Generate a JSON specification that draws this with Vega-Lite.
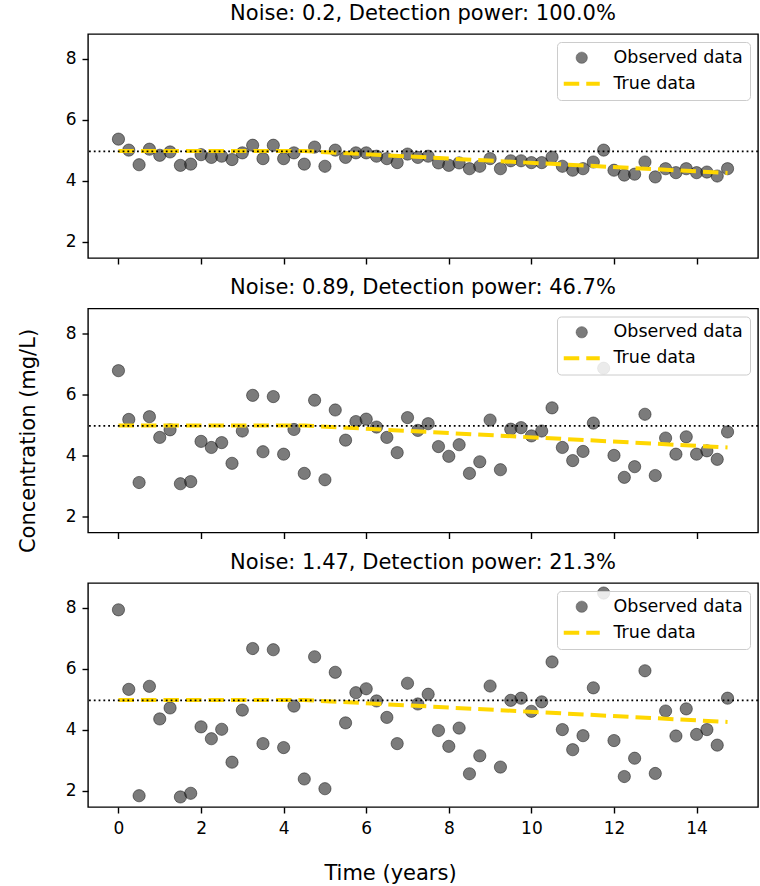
{
  "$schema": "https://vega.github.io/schema/vega-lite/v6.json",
  "background": "white",
  "padding": {"left": 16, "top": 1, "right": 2, "bottom": 2},
  "config": {
    "font": "DejaVu Sans",
    "view": {"stroke": "black", "strokeWidth": 1.4},
    "axis": {"grid": false, "domain": false, "tickColor": "black", "tickWidth": 1.4, "tickSize": 6, "labelFontSize": 17, "labelColor": "black", "labelPadding": 6, "labelFont": "DejaVu Sans", "titleFont": "DejaVu Sans", "titleFontSize": 21, "titleFontWeight": "normal", "titleColor": "black"},
    "axisX": {"labelPadding": 7},
    "title": {"fontSize": 21, "fontWeight": "normal", "font": "DejaVu Sans", "color": "black", "offset": 10.5, "baseline": "alphabetic"},
    "legend": {"title": null, "orient": "top-right", "offset": 8, "padding": 7, "fillColor": "rgba(255,255,255,0.85)", "strokeColor": "#cccccc", "cornerRadius": 4, "labelFontSize": 17.5, "labelColor": "black", "labelFont": "DejaVu Sans", "symbolSize": 400, "symbolOffset": 9, "labelOffset": 23, "rowPadding": 7,
      "symbolStrokeWidth": 1}
  },
  "bounds": "flush",
  "spacing": 50.5,
  "resolve": {"scale": {"color": "independent"}, "legend": {"color": "independent"}},
  "datasets": {
    "obs": [
      {"p":1,"t":0,"v":5.37},{"p":1,"t":0.25,"v":5.01},{"p":1,"t":0.5,"v":4.53},{"p":1,"t":0.75,"v":5.04},{"p":1,"t":1,"v":4.84},{"p":1,"t":1.25,"v":4.95},{"p":1,"t":1.5,"v":4.51},{"p":1,"t":1.75,"v":4.55},{"p":1,"t":2,"v":4.86},{"p":1,"t":2.25,"v":4.77},{"p":1,"t":2.5,"v":4.81},{"p":1,"t":2.75,"v":4.70},{"p":1,"t":3,"v":4.92},{"p":1,"t":3.25,"v":5.17},{"p":1,"t":3.5,"v":4.73},{"p":1,"t":3.75,"v":5.17},{"p":1,"t":4,"v":4.73},{"p":1,"t":4.25,"v":4.92},{"p":1,"t":4.5,"v":4.55},{"p":1,"t":4.75,"v":5.11},{"p":1,"t":5,"v":4.48},{"p":1,"t":5.25,"v":5.01},{"p":1,"t":5.5,"v":4.77},{"p":1,"t":5.75,"v":4.92},{"p":1,"t":6,"v":4.92},{"p":1,"t":6.25,"v":4.81},{"p":1,"t":6.5,"v":4.73},{"p":1,"t":6.75,"v":4.60},{"p":1,"t":7,"v":4.88},{"p":1,"t":7.25,"v":4.77},{"p":1,"t":7.5,"v":4.81},{"p":1,"t":7.75,"v":4.59},{"p":1,"t":8,"v":4.51},{"p":1,"t":8.25,"v":4.59},{"p":1,"t":8.5,"v":4.40},{"p":1,"t":8.75,"v":4.48},{"p":1,"t":9,"v":4.73},{"p":1,"t":9.25,"v":4.40},{"p":1,"t":9.5,"v":4.66},{"p":1,"t":9.75,"v":4.66},{"p":1,"t":10,"v":4.60},{"p":1,"t":10.25,"v":4.60},{"p":1,"t":10.5,"v":4.78},{"p":1,"t":10.75,"v":4.48},{"p":1,"t":11,"v":4.35},{"p":1,"t":11.25,"v":4.40},{"p":1,"t":11.5,"v":4.62},{"p":1,"t":11.75,"v":5.01},{"p":1,"t":12,"v":4.35},{"p":1,"t":12.25,"v":4.19},{"p":1,"t":12.5,"v":4.22},{"p":1,"t":12.75,"v":4.62},{"p":1,"t":13,"v":4.13},{"p":1,"t":13.25,"v":4.40},{"p":1,"t":13.5,"v":4.27},{"p":1,"t":13.75,"v":4.40},{"p":1,"t":14,"v":4.27},{"p":1,"t":14.25,"v":4.29},{"p":1,"t":14.5,"v":4.16},{"p":1,"t":14.75,"v":4.40},
      {"p":2,"t":0,"v":6.78},{"p":2,"t":0.25,"v":5.18},{"p":2,"t":0.5,"v":3.11},{"p":2,"t":0.75,"v":5.27},{"p":2,"t":1,"v":4.59},{"p":2,"t":1.25,"v":4.84},{"p":2,"t":1.5,"v":3.07},{"p":2,"t":1.75,"v":3.14},{"p":2,"t":2,"v":4.46},{"p":2,"t":2.25,"v":4.26},{"p":2,"t":2.5,"v":4.42},{"p":2,"t":2.75,"v":3.74},{"p":2,"t":3,"v":4.80},{"p":2,"t":3.25,"v":5.97},{"p":2,"t":3.5,"v":4.12},{"p":2,"t":3.75,"v":5.93},{"p":2,"t":4,"v":4.04},{"p":2,"t":4.25,"v":4.85},{"p":2,"t":4.5,"v":3.41},{"p":2,"t":4.75,"v":5.81},{"p":2,"t":5,"v":3.20},{"p":2,"t":5.25,"v":5.49},{"p":2,"t":5.5,"v":4.50},{"p":2,"t":5.75,"v":5.11},{"p":2,"t":6,"v":5.19},{"p":2,"t":6.25,"v":4.93},{"p":2,"t":6.5,"v":4.59},{"p":2,"t":6.75,"v":4.09},{"p":2,"t":7,"v":5.24},{"p":2,"t":7.25,"v":4.82},{"p":2,"t":7.5,"v":5.04},{"p":2,"t":7.75,"v":4.29},{"p":2,"t":8,"v":3.97},{"p":2,"t":8.25,"v":4.35},{"p":2,"t":8.5,"v":3.41},{"p":2,"t":8.75,"v":3.79},{"p":2,"t":9,"v":5.16},{"p":2,"t":9.25,"v":3.53},{"p":2,"t":9.5,"v":4.86},{"p":2,"t":9.75,"v":4.91},{"p":2,"t":10,"v":4.64},{"p":2,"t":10.25,"v":4.80},{"p":2,"t":10.5,"v":5.56},{"p":2,"t":10.75,"v":4.26},{"p":2,"t":11,"v":3.83},{"p":2,"t":11.25,"v":4.13},{"p":2,"t":11.5,"v":5.06},{"p":2,"t":11.75,"v":6.86},{"p":2,"t":12,"v":4.00},{"p":2,"t":12.25,"v":3.28},{"p":2,"t":12.5,"v":3.63},{"p":2,"t":12.75,"v":5.35},{"p":2,"t":13,"v":3.34},{"p":2,"t":13.25,"v":4.57},{"p":2,"t":13.5,"v":4.04},{"p":2,"t":13.75,"v":4.61},{"p":2,"t":14,"v":4.04},{"p":2,"t":14.25,"v":4.15},{"p":2,"t":14.5,"v":3.87},{"p":2,"t":14.75,"v":4.77},
      {"p":3,"t":0,"v":7.94},{"p":3,"t":0.25,"v":5.33},{"p":3,"t":0.5,"v":1.84},{"p":3,"t":0.75,"v":5.43},{"p":3,"t":1,"v":4.36},{"p":3,"t":1.25,"v":4.72},{"p":3,"t":1.5,"v":1.80},{"p":3,"t":1.75,"v":1.92},{"p":3,"t":2,"v":4.10},{"p":3,"t":2.25,"v":3.71},{"p":3,"t":2.5,"v":4.02},{"p":3,"t":2.75,"v":2.94},{"p":3,"t":3,"v":4.65},{"p":3,"t":3.25,"v":6.67},{"p":3,"t":3.5,"v":3.55},{"p":3,"t":3.75,"v":6.63},{"p":3,"t":4,"v":3.42},{"p":3,"t":4.25,"v":4.78},{"p":3,"t":4.5,"v":2.39},{"p":3,"t":4.75,"v":6.40},{"p":3,"t":5,"v":2.07},{"p":3,"t":5.25,"v":5.89},{"p":3,"t":5.5,"v":4.23},{"p":3,"t":5.75,"v":5.22},{"p":3,"t":6,"v":5.35},{"p":3,"t":6.25,"v":4.95},{"p":3,"t":6.5,"v":4.41},{"p":3,"t":6.75,"v":3.55},{"p":3,"t":7,"v":5.53},{"p":3,"t":7.25,"v":4.85},{"p":3,"t":7.5,"v":5.17},{"p":3,"t":7.75,"v":3.98},{"p":3,"t":8,"v":3.46},{"p":3,"t":8.25,"v":4.06},{"p":3,"t":8.5,"v":2.56},{"p":3,"t":8.75,"v":3.15},{"p":3,"t":9,"v":5.44},{"p":3,"t":9.25,"v":2.78},{"p":3,"t":9.5,"v":4.97},{"p":3,"t":9.75,"v":5.04},{"p":3,"t":10,"v":4.61},{"p":3,"t":10.25,"v":4.92},{"p":3,"t":10.5,"v":6.23},{"p":3,"t":10.75,"v":4.01},{"p":3,"t":11,"v":3.35},{"p":3,"t":11.25,"v":3.81},{"p":3,"t":11.5,"v":5.38},{"p":3,"t":11.75,"v":8.49},{"p":3,"t":12,"v":3.65},{"p":3,"t":12.25,"v":2.47},{"p":3,"t":12.5,"v":3.07},{"p":3,"t":12.75,"v":5.94},{"p":3,"t":13,"v":2.57},{"p":3,"t":13.25,"v":4.62},{"p":3,"t":13.5,"v":3.80},{"p":3,"t":13.75,"v":4.69},{"p":3,"t":14,"v":3.85},{"p":3,"t":14.25,"v":4.01},{"p":3,"t":14.5,"v":3.50},{"p":3,"t":14.75,"v":5.04}
    ],
    "truth": [{"t":0,"v":4.98},{"t":4.5,"v":4.98},{"t":14.75,"v":4.26}],
    "ref": [{"v":4.97}]
  },
  "vconcat": [
    {
      "title": "Noise: 0.2, Detection power: 100.0%",
      "width": 670, "height": 224,
      "layer": [
        {"data": {"name": "obs"}, "transform": [{"filter": "datum.p == 1"}],
         "mark": {"type": "point", "filled": true, "size": 150, "fillOpacity": 0.62, "stroke": "black", "strokeOpacity": 0.45, "strokeWidth": 1, "opacity": 1},
         "encoding": {
           "x": {"field": "t", "type": "quantitative", "scale": {"domain": [-0.7375, 15.4875], "nice": false, "zero": false}, "axis": {"values": [0,2,4,6,8,10,12,14], "labels": false, "title": null}},
           "y": {"field": "v", "type": "quantitative", "scale": {"domain": [1.47, 8.82], "nice": false, "zero": false}, "axis": {"values": [2,4,6,8], "title": null}},
           "color": {"datum": "Observed data", "type": "nominal", "scale": {"domain": ["Observed data", "True data"], "range": ["#2a2a2a", "#FFD700"]},
             "legend": {"encode": {"symbols": {"update": {
               "shape": {"signal": "datum.value === 'True data' ? 'stroke' : 'circle'"},
               "size": {"signal": "datum.value === 'True data' ? 1296 : 125"},
               "strokeDash": {"signal": "datum.value === 'True data' ? [15.5, 7] : [1, 0]"},
               "strokeWidth": {"signal": "datum.value === 'True data' ? 4 : 1"},
               "stroke": {"signal": "datum.value === 'True data' ? '#FFD700' : 'black'"},
               "fill": {"signal": "datum.value === 'True data' ? 'transparent' : '#2a2a2a'"},
               "fillOpacity": {"value": 0.62},
               "strokeOpacity": {"signal": "datum.value === 'True data' ? 1 : 0.45"},
               "opacity": {"value": 1}}}}}}
         }},
        {"data": {"name": "truth"},
         "mark": {"type": "line", "strokeDash": [15.5, 7], "strokeWidth": 4},
         "encoding": {"x": {"field": "t", "type": "quantitative"}, "y": {"field": "v", "type": "quantitative"},
           "color": {"datum": "True data", "type": "nominal",
             "legend": {"encode": {"symbols": {"update": {
               "shape": {"signal": "datum.value === 'True data' ? 'stroke' : 'circle'"},
               "size": {"signal": "datum.value === 'True data' ? 1296 : 125"},
               "strokeDash": {"signal": "datum.value === 'True data' ? [15.5, 7] : [1, 0]"},
               "strokeWidth": {"signal": "datum.value === 'True data' ? 4 : 1"},
               "stroke": {"signal": "datum.value === 'True data' ? '#FFD700' : 'black'"},
               "fill": {"signal": "datum.value === 'True data' ? 'transparent' : '#2a2a2a'"},
               "fillOpacity": {"value": 0.62},
               "strokeOpacity": {"signal": "datum.value === 'True data' ? 1 : 0.45"},
               "opacity": {"value": 1}}}}}}}},
        {"data": {"name": "ref"},
         "mark": {"type": "rule", "color": "black", "strokeDash": [1.8, 3], "strokeWidth": 1.8},
         "encoding": {"y": {"field": "v", "type": "quantitative"}}}
      ]
    },
    {
      "title": "Noise: 0.89, Detection power: 46.7%",
      "width": 670, "height": 224,
      "layer": [
        {"data": {"name": "obs"}, "transform": [{"filter": "datum.p == 2"}],
         "mark": {"type": "point", "filled": true, "size": 150, "fillOpacity": 0.62, "stroke": "black", "strokeOpacity": 0.45, "strokeWidth": 1, "opacity": 1},
         "encoding": {
           "x": {"field": "t", "type": "quantitative", "scale": {"domain": [-0.7375, 15.4875], "nice": false, "zero": false}, "axis": {"values": [0,2,4,6,8,10,12,14], "labels": false, "title": null}},
           "y": {"field": "v", "type": "quantitative", "scale": {"domain": [1.47, 8.82], "nice": false, "zero": false}, "axis": {"values": [2,4,6,8], "title": "Concentration (mg/L)", "titleAngle": 270, "titleBaseline": "alphabetic", "titleAlign": "center", "titleX": -53.7, "titleY": 132}},
           "color": {"datum": "Observed data", "type": "nominal", "scale": {"domain": ["Observed data", "True data"], "range": ["#2a2a2a", "#FFD700"]},
             "legend": {"encode": {"symbols": {"update": {
               "shape": {"signal": "datum.value === 'True data' ? 'stroke' : 'circle'"},
               "size": {"signal": "datum.value === 'True data' ? 1296 : 125"},
               "strokeDash": {"signal": "datum.value === 'True data' ? [15.5, 7] : [1, 0]"},
               "strokeWidth": {"signal": "datum.value === 'True data' ? 4 : 1"},
               "stroke": {"signal": "datum.value === 'True data' ? '#FFD700' : 'black'"},
               "fill": {"signal": "datum.value === 'True data' ? 'transparent' : '#2a2a2a'"},
               "fillOpacity": {"value": 0.62},
               "strokeOpacity": {"signal": "datum.value === 'True data' ? 1 : 0.45"},
               "opacity": {"value": 1}}}}}}
         }},
        {"data": {"name": "truth"},
         "mark": {"type": "line", "strokeDash": [15.5, 7], "strokeWidth": 4},
         "encoding": {"x": {"field": "t", "type": "quantitative"}, "y": {"field": "v", "type": "quantitative"},
           "color": {"datum": "True data", "type": "nominal",
             "legend": {"encode": {"symbols": {"update": {
               "shape": {"signal": "datum.value === 'True data' ? 'stroke' : 'circle'"},
               "size": {"signal": "datum.value === 'True data' ? 1296 : 125"},
               "strokeDash": {"signal": "datum.value === 'True data' ? [15.5, 7] : [1, 0]"},
               "strokeWidth": {"signal": "datum.value === 'True data' ? 4 : 1"},
               "stroke": {"signal": "datum.value === 'True data' ? '#FFD700' : 'black'"},
               "fill": {"signal": "datum.value === 'True data' ? 'transparent' : '#2a2a2a'"},
               "fillOpacity": {"value": 0.62},
               "strokeOpacity": {"signal": "datum.value === 'True data' ? 1 : 0.45"},
               "opacity": {"value": 1}}}}}}}},
        {"data": {"name": "ref"},
         "mark": {"type": "rule", "color": "black", "strokeDash": [1.8, 3], "strokeWidth": 1.8},
         "encoding": {"y": {"field": "v", "type": "quantitative"}}}
      ]
    },
    {
      "title": "Noise: 1.47, Detection power: 21.3%",
      "width": 670, "height": 224,
      "layer": [
        {"data": {"name": "obs"}, "transform": [{"filter": "datum.p == 3"}],
         "mark": {"type": "point", "filled": true, "size": 150, "fillOpacity": 0.62, "stroke": "black", "strokeOpacity": 0.45, "strokeWidth": 1, "opacity": 1},
         "encoding": {
           "x": {"field": "t", "type": "quantitative", "scale": {"domain": [-0.7375, 15.4875], "nice": false, "zero": false}, "axis": {"values": [0,2,4,6,8,10,12,14], "title": "Time (years)", "titleX": 302, "titleY": 72, "titleBaseline": "alphabetic", "titleAlign": "center"}},
           "y": {"field": "v", "type": "quantitative", "scale": {"domain": [1.47, 8.82], "nice": false, "zero": false}, "axis": {"values": [2,4,6,8], "title": null}},
           "color": {"datum": "Observed data", "type": "nominal", "scale": {"domain": ["Observed data", "True data"], "range": ["#2a2a2a", "#FFD700"]},
             "legend": {"encode": {"symbols": {"update": {
               "shape": {"signal": "datum.value === 'True data' ? 'stroke' : 'circle'"},
               "size": {"signal": "datum.value === 'True data' ? 1296 : 125"},
               "strokeDash": {"signal": "datum.value === 'True data' ? [15.5, 7] : [1, 0]"},
               "strokeWidth": {"signal": "datum.value === 'True data' ? 4 : 1"},
               "stroke": {"signal": "datum.value === 'True data' ? '#FFD700' : 'black'"},
               "fill": {"signal": "datum.value === 'True data' ? 'transparent' : '#2a2a2a'"},
               "fillOpacity": {"value": 0.62},
               "strokeOpacity": {"signal": "datum.value === 'True data' ? 1 : 0.45"},
               "opacity": {"value": 1}}}}}}
         }},
        {"data": {"name": "truth"},
         "mark": {"type": "line", "strokeDash": [15.5, 7], "strokeWidth": 4},
         "encoding": {"x": {"field": "t", "type": "quantitative"}, "y": {"field": "v", "type": "quantitative"},
           "color": {"datum": "True data", "type": "nominal",
             "legend": {"encode": {"symbols": {"update": {
               "shape": {"signal": "datum.value === 'True data' ? 'stroke' : 'circle'"},
               "size": {"signal": "datum.value === 'True data' ? 1296 : 125"},
               "strokeDash": {"signal": "datum.value === 'True data' ? [15.5, 7] : [1, 0]"},
               "strokeWidth": {"signal": "datum.value === 'True data' ? 4 : 1"},
               "stroke": {"signal": "datum.value === 'True data' ? '#FFD700' : 'black'"},
               "fill": {"signal": "datum.value === 'True data' ? 'transparent' : '#2a2a2a'"},
               "fillOpacity": {"value": 0.62},
               "strokeOpacity": {"signal": "datum.value === 'True data' ? 1 : 0.45"},
               "opacity": {"value": 1}}}}}}}},
        {"data": {"name": "ref"},
         "mark": {"type": "rule", "color": "black", "strokeDash": [1.8, 3], "strokeWidth": 1.8},
         "encoding": {"y": {"field": "v", "type": "quantitative"}}}
      ]
    }
  ]
}
